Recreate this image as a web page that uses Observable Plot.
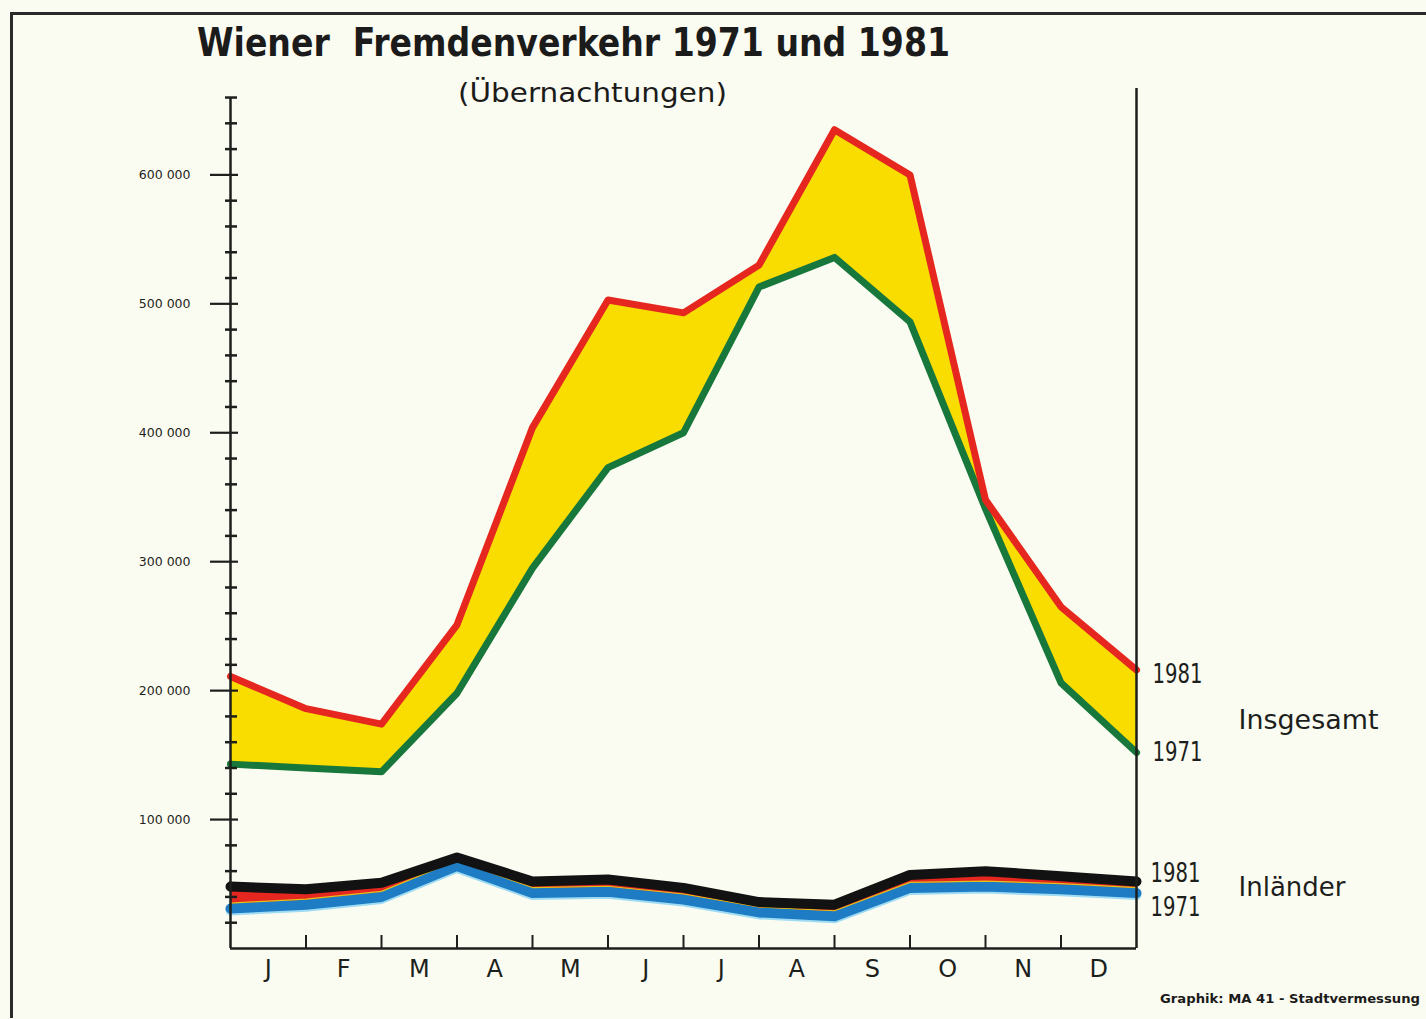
<!DOCTYPE html>
<html>
<head>
<meta charset="utf-8">
<script src="https://cdn.jsdelivr.net/npm/d3@7"></script>
<script src="https://cdn.jsdelivr.net/npm/@observablehq/plot@0.6"></script>
<style>
  html, body { margin: 0; padding: 0; background: #fbfcf1; }
  #wrap { position: relative; width: 1426px; height: 1019px; background: #fbfcf1; overflow: hidden; font-family: "DejaVu Sans", sans-serif; color: #1b1b1b; }
  #frame { position: absolute; left: 10px; top: 12px; width: 1440px; height: 1003px; border-top: 3px solid #2a2a2a; border-left: 3px solid #2a2a2a; }
  #chart { position: absolute; left: 0; top: 0; }
  .fit { position: absolute; white-space: pre; transform-origin: 0 50%; }
  #title { left: 197px; top: 21px; font-size: 39px; font-weight: bold; line-height: 44px; }
  #subtitle { left: 458px; top: 76px; font-size: 27px; line-height: 34px; }
  #caption { left: 1160px; top: 990px; font-size: 13px; font-weight: bold; line-height: 18px; }
</style>
</head>
<body>
<div id="wrap">
  <div id="frame"></div>
  <div id="chart"></div>
  <div id="title" class="fit" data-w="753">Wiener  Fremdenverkehr 1971 und 1981</div>
  <div id="subtitle" class="fit" data-w="269">(Übernachtungen)</div>
  <div id="caption" class="fit" data-w="260">Graphik: MA 41 - Stadtvermessung</div>
</div>
<script>
// ---- data ----
const months = ["J", "F", "M", "A", "M", "J", "J", "A", "S", "O", "N", "D"];
const positions = [0, 1, 2, 3, 4, 5, 6, 7, 8, 9, 10, 11, 12];
const insgesamt1981 = [211000, 186000, 174000, 251000, 404000, 503000, 493000, 530000, 635000, 600000, 348000, 265000, 216000];
const insgesamt1971 = [143000, 140000, 137000, 198000, 295000, 373000, 400000, 513000, 536000, 486000, 341000, 206000, 152000];
const inlaender1981 = [48000, 46000, 51000, 70500, 52000, 53500, 47000, 36000, 34000, 57000, 60000, 56000, 52000];
const inlaender1971 = [31000, 34000, 40000, 64000, 43000, 44000, 38000, 28000, 25000, 47000, 48000, 46000, 43000];
const yMajorTicks = [100000, 200000, 300000, 400000, 500000, 600000];
const yMinorTicks = d3.range(20000, 660001, 20000).filter(d => d % 100000 !== 0);
const xTicks = [1, 2, 3, 4, 5, 6, 7, 8, 9, 10, 11];
const seriesLabels = ["1981", "1971"];
const groupLabels = ["Insgesamt", "Inländer"];

const rows = positions.map((p, i) => ({
  pos: p,
  ins81: insgesamt1981[i],
  ins71: insgesamt1971[i],
  inl81: inlaender1981[i],
  inl71: inlaender1971[i]
}));
const last = rows[rows.length - 1];
const fmt = d => d3.format(",")(d).replace(/,/g, " ");

const RED = "#e5271f", GREEN = "#18773a", YELLOW = "#f9dc00", BLUE = "#1d7cc3", BLACK = "#121212", INK = "#1d1f1d";

const chart = Plot.plot({
  width: 1426,
  height: 1019,
  marginLeft: 230,
  marginRight: 290,
  marginTop: 88,
  marginBottom: 71,
  style: { background: "transparent", fontFamily: "DejaVu Sans, sans-serif", color: INK },
  x: { domain: [0, 12], axis: null },
  y: { domain: [0, 667000], axis: null },
  marks: [
    // Insgesamt
    Plot.areaY(rows, { x: "pos", y1: "ins71", y2: "ins81", fill: YELLOW }),
    Plot.lineY(rows, { x: "pos", y: "ins71", stroke: GREEN, strokeWidth: 7 }),
    Plot.lineY(rows, { x: "pos", y: "ins81", stroke: RED, strokeWidth: 7 }),
    // Inländer
    Plot.areaY(rows, { x: "pos", y1: "inl71", y2: "inl81", fill: RED }),
    Plot.lineY(rows, { x: "pos", y: "inl71", stroke: "#9fdcf4", strokeWidth: 10, dy: 2 }),
    Plot.lineY(rows, { x: "pos", y: "inl71", stroke: BLUE, strokeWidth: 10 }),
    Plot.lineY(rows, { x: "pos", y: "inl71", stroke: "#e2c21a", strokeWidth: 1.2, dy: -5.5 }),
    Plot.lineY(rows, { x: "pos", y: "inl81", stroke: BLACK, strokeWidth: 10 }),
    // frame lines
    Plot.ruleX([0], { y1: 0, y2: 660000, stroke: INK, strokeWidth: 2.5 }),
    Plot.ruleX([12], { y1: 0, y2: 667000, stroke: INK, strokeWidth: 2.5 }),
    Plot.ruleY([0], { x1: 0, x2: 12, stroke: INK, strokeWidth: 2.5 }),
    // y ticks
    Plot.ruleY(yMinorTicks, { y: d => d, x1: 0, x2: 0, insetLeft: -5, insetRight: -7, stroke: INK, strokeWidth: 2.5 }),
    Plot.ruleY(yMajorTicks, { y: d => d, x1: 0, x2: 0, insetLeft: -20, insetRight: -8, stroke: INK, strokeWidth: 2.2 }),
    Plot.text(yMajorTicks, { x: 0, y: d => d, text: fmt, textAnchor: "end", dx: -40, fontSize: 12.5, fill: INK }),
    // x ticks and month labels
    Plot.ruleX(xTicks, { x: d => d, y1: 0, y2: 0, insetTop: -13, stroke: INK, strokeWidth: 2 }),
    Plot.text(months, { x: (d, i) => i + 0.5, y: 0, text: d => d, dy: 21, fontSize: 24, fill: INK }),
    // right-hand labels
    Plot.text([last], { x: "pos", y: "ins81", text: () => seriesLabels[0], textAnchor: "start", dx: 16, dy: 4, fontSize: 27, fill: INK }),
    Plot.text([last], { x: "pos", y: "ins71", text: () => seriesLabels[1], textAnchor: "start", dx: 16, dy: 0, fontSize: 27, fill: INK }),
    Plot.text([last], { x: "pos", y: d => (d.ins81 + d.ins71) / 2, text: () => groupLabels[0], textAnchor: "start", dx: 102, dy: 9, fontSize: 27, fill: INK }),
    Plot.text([last], { x: "pos", y: "inl81", text: () => seriesLabels[0], textAnchor: "start", dx: 14, dy: -8, fontSize: 27, fill: INK }),
    Plot.text([last], { x: "pos", y: "inl71", text: () => seriesLabels[1], textAnchor: "start", dx: 14, dy: 14, fontSize: 27, fill: INK }),
    Plot.text([last], { x: "pos", y: d => (d.inl81 + d.inl71) / 2, text: () => groupLabels[1], textAnchor: "start", dx: 102, dy: 0, fontSize: 27, fill: INK })
  ]
});
document.getElementById("chart").appendChild(chart);

// narrow the year labels to the lettering width of the original
chart.querySelectorAll("text").forEach(t => {
  const s = t.textContent.trim();
  if (seriesLabels.includes(s)) { t.setAttribute("textLength", 50); t.setAttribute("lengthAdjust", "spacingAndGlyphs"); }
  if (s === groupLabels[0]) { t.setAttribute("textLength", 140); t.setAttribute("lengthAdjust", "spacingAndGlyphs"); }
  if (s === groupLabels[1]) { t.setAttribute("textLength", 107); t.setAttribute("lengthAdjust", "spacingAndGlyphs"); }
});

// fit HTML titles to the widths of the original lettering
document.querySelectorAll(".fit").forEach(el => {
  const target = +el.dataset.w;
  const w = el.getBoundingClientRect().width;
  if (w > 0) el.style.transform = `scaleX(${target / w})`;
});
</script>
</body>
</html>
